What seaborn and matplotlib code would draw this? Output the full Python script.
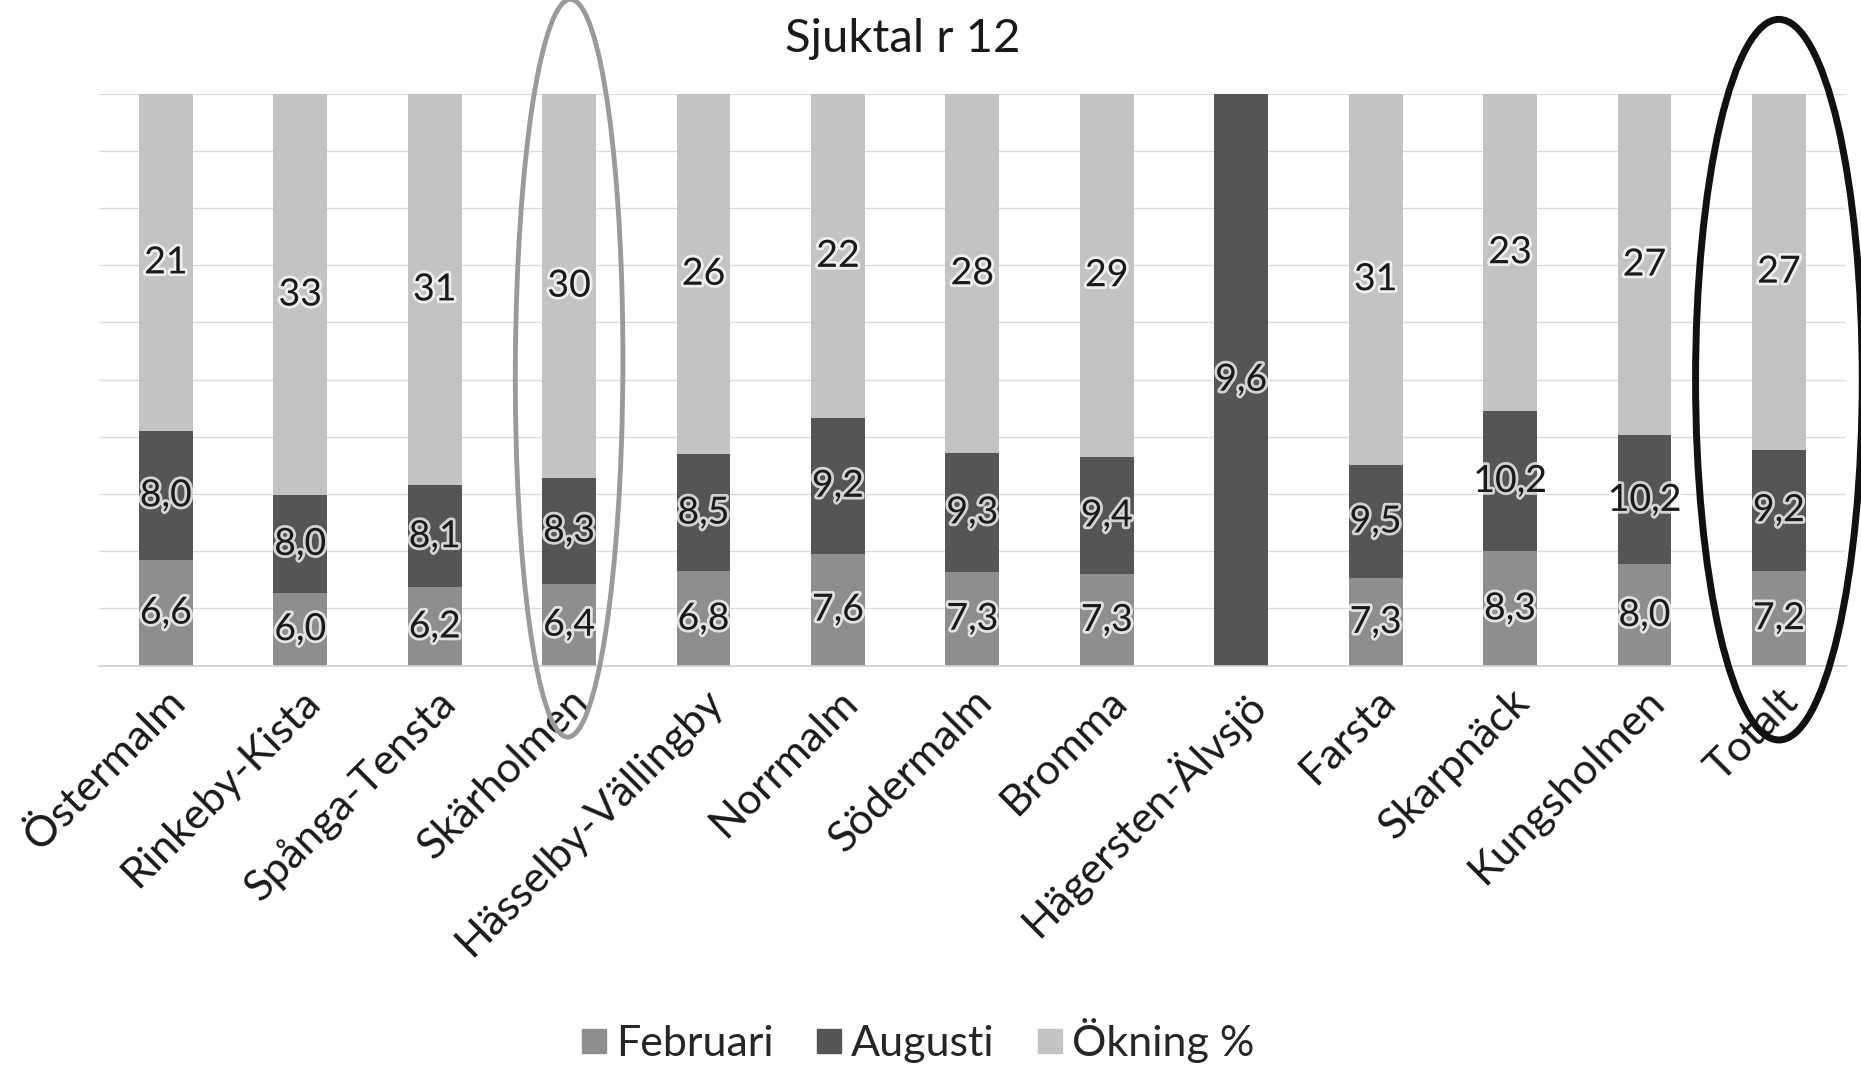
import numpy as np
import pandas as pd
import matplotlib
matplotlib.use("Agg")
import matplotlib.pyplot as plt
import matplotlib.patheffects as pe
from matplotlib.patches import Ellipse
from matplotlib.lines import Line2D
import seaborn as sns

# ---- data ----
categories = ["Östermalm", "Rinkeby-Kista", "Spånga-Tensta", "Skärholmen",
              "Hässelby-Vällingby", "Norrmalm", "Södermalm", "Bromma",
              "Hägersten-Älvsjö", "Farsta", "Skarpnäck", "Kungsholmen", "Totalt"]
februari = [6.6, 6.0, 6.2, 6.4, 6.8, 7.6, 7.3, 7.3, np.nan, 7.3, 8.3, 8.0, 7.2]
augusti = [8.0, 8.0, 8.1, 8.3, 8.5, 9.2, 9.3, 9.4, 9.6, 9.5, 10.2, 10.2, 9.2]
okning = [21, 33, 31, 30, 26, 22, 28, 29, np.nan, 31, 23, 27, 27]
series_names = ["Februari", "Augusti", "Ökning %"]
colors = {"Februari": "#8e8e8e", "Augusti": "#555555", "Ökning %": "#c3c3c3"}
title = "Sjuktal r 12"

# ---- 100% stacked table ----
df = pd.DataFrame({"cat": categories, "Februari": februari,
                   "Augusti": augusti, "Ökning %": okning})
vals = df[series_names].fillna(0.0)
total = vals.sum(axis=1)
frac = vals.div(total, axis=0)
cum_top = frac.cumsum(axis=1)          # top edge of each segment
cum_bot = cum_top - frac               # bottom edge of each segment

sns.set_theme(style="white")
plt.rcParams["font.family"] = ["Lato", "DejaVu Sans"]

fig = plt.figure(figsize=(18.61, 10.65), dpi=100)
ax = fig.add_axes([0.053, 0.375, 0.939, 0.537])

# draw from the top segment down so lower segments overlay
for name in reversed(series_names):
    plot_df = pd.DataFrame({"cat": df["cat"], "h": cum_top[name]})
    sns.barplot(data=plot_df, x="cat", y="h", color=colors[name],
                saturation=1, width=0.4, ax=ax, order=categories,
                errorbar=None, zorder=2, linewidth=0, edgecolor="none")

# data labels
halo = [pe.withStroke(linewidth=4, foreground="white", alpha=0.75)]
for i in range(len(categories)):
    for name in series_names:
        v = df.loc[i, name]
        if pd.isna(v):
            continue
        y = (cum_bot.loc[i, name] + cum_top.loc[i, name]) / 2
        if name == "Ökning %":
            s = f"{v:.0f}"
        else:
            s = f"{v:.1f}".replace(".", ",")
        ax.text(i, y, s, ha="center", va="center", fontsize=27,
                color="#1a1a1a", path_effects=halo, zorder=4)

ax.set_ylim(0, 1)
ax.set_xlim(-0.5, len(categories) - 0.5)
ax.set_yticks(np.linspace(0, 1, 11))
ax.set_yticklabels([])
ax.yaxis.grid(True, color="#dcdcdc", linewidth=1.0)
ax.set_axisbelow(True)
ax.tick_params(axis="y", length=0)
ax.tick_params(axis="x", length=0, pad=12)
for sp in ["top", "right", "left"]:
    ax.spines[sp].set_visible(False)
ax.spines["bottom"].set_color("#d0d0d0")
ax.set_xlabel("")
ax.set_ylabel("")
ax.set_xticks(range(len(categories)))
ax.set_xticklabels(categories, rotation=45, ha="right",
                   rotation_mode="anchor", fontsize=31, color="#1a1a1a")

# hand-drawn highlight ellipses
ax.add_patch(Ellipse((categories.index("Skärholmen"), 0.52), 0.80, 1.29,
                     angle=-1.5, fill=False, edgecolor="#9a9a9a",
                     linewidth=3.5, clip_on=False, zorder=5))
ax.add_patch(Ellipse((categories.index("Totalt"), 0.50), 1.24, 1.26,
                     fill=False, edgecolor="#111111", linewidth=5,
                     clip_on=False, zorder=5))

fig.text(0.485, 0.963, title, ha="center", va="center", fontsize=34,
         color="#1a1a1a")

handles = [Line2D([], [], marker="s", linestyle="", markersize=17,
                  markerfacecolor=colors[n], markeredgecolor=colors[n])
           for n in series_names]
fig.legend(handles, series_names, loc="center", bbox_to_anchor=(0.492, 0.023),
           ncol=3, frameon=False, fontsize=31, handletextpad=0.1,
           handlelength=0.8, columnspacing=0.9)

fig.savefig("out.png", dpi=100, facecolor="white")
